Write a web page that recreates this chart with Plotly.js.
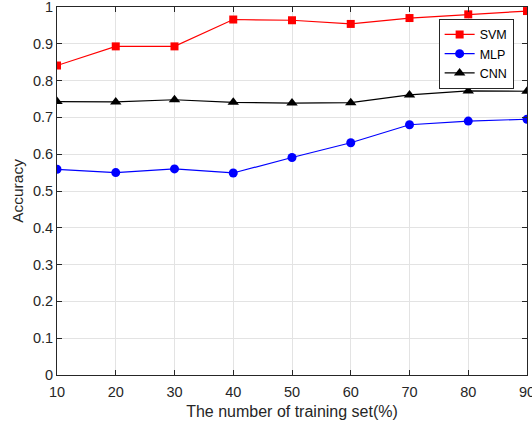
<!DOCTYPE html>
<html>
<head>
<meta charset="utf-8">
<script src="https://cdn.plot.ly/plotly-3.0.1.min.js"></script>
<style>html,body{margin:0;padding:0;background:#fff;}#chart{width:532px;height:428px;}</style>
</head>
<body>
<div id="chart"></div>
<script>
const trainingSet = [10, 20, 30, 40, 50, 60, 70, 80, 90];
const svm = [0.841, 0.893, 0.893, 0.966, 0.964, 0.954, 0.970, 0.980, 0.989];
const mlp = [0.559, 0.550, 0.560, 0.549, 0.591, 0.631, 0.680, 0.690, 0.695];
const cnn = [0.743, 0.742, 0.748, 0.741, 0.739, 0.740, 0.761, 0.772, 0.771];
const xTicks = [10, 20, 30, 40, 50, 60, 70, 80, 90];
const yTicks = [0, 0.1, 0.2, 0.3, 0.4, 0.5, 0.6, 0.7, 0.8, 0.9, 1];
const yTickText = ['0', '0.1', '0.2', '0.3', '0.4', '0.5', '0.6', '0.7', '0.8', '0.9', '1'];

const traces = [
  {x: trainingSet, y: svm, name: 'SVM', mode: 'lines+markers',
   line: {color: '#ff0000', width: 1.2}, marker: {symbol: 'square', size: 8, color: '#ff0000'}},
  {x: trainingSet, y: mlp, name: 'MLP', mode: 'lines+markers',
   line: {color: '#0000ff', width: 1.2}, marker: {symbol: 'circle', size: 9, color: '#0000ff'}},
  {x: trainingSet, y: cnn, name: 'CNN', mode: 'lines+markers',
   line: {color: '#000000', width: 1.2}, marker: {symbol: 'triangle-up', size: 10, color: '#000000'}}
];

const FONT = 'Liberation Sans, Arial, sans-serif';
const axisCommon = {
  showline: true, linecolor: '#262626', linewidth: 1, mirror: 'ticks',
  ticks: 'inside', ticklen: 5, tickcolor: '#262626',
  showgrid: true, gridcolor: '#e3e3e3', gridwidth: 1, zeroline: false,
  tickfont: {family: FONT, size: 14.5, color: '#262626'},
  ticklabeloverflow: 'allow'
};

const layout = {
  width: 532, height: 428,
  margin: {l: 57, r: 5, t: 7, b: 53},
  paper_bgcolor: '#ffffff', plot_bgcolor: '#ffffff',
  showlegend: true,
  xaxis: Object.assign({}, axisCommon, {
    range: [9.999, 90.001], tickvals: xTicks, ticktext: xTicks.map(String),
    ticklabelstandoff: 4,
    title: {text: 'The number of training set(%)', standoff: 6,
      font: {family: FONT, size: 16, color: '#262626'}}
  }),
  yaxis: Object.assign({}, axisCommon, {
    range: [-0.00001, 1.00001], tickvals: yTicks, ticktext: yTickText,
    title: {text: 'Accuracy', standoff: 5,
      font: {family: FONT, size: 15.5, color: '#262626'}}
  }),
  legend: {
    x: 0.812, y: 0.968, xanchor: 'left', yanchor: 'top',
    bgcolor: '#ffffff', bordercolor: '#262626', borderwidth: 1,
    font: {family: FONT, size: 12.5, color: '#000000'},
    tracegroupgap: 0, itemwidth: 30
  }
};

Plotly.newPlot('chart', traces, layout, {displayModeBar: false, staticPlot: true});
</script>
</body>
</html>
